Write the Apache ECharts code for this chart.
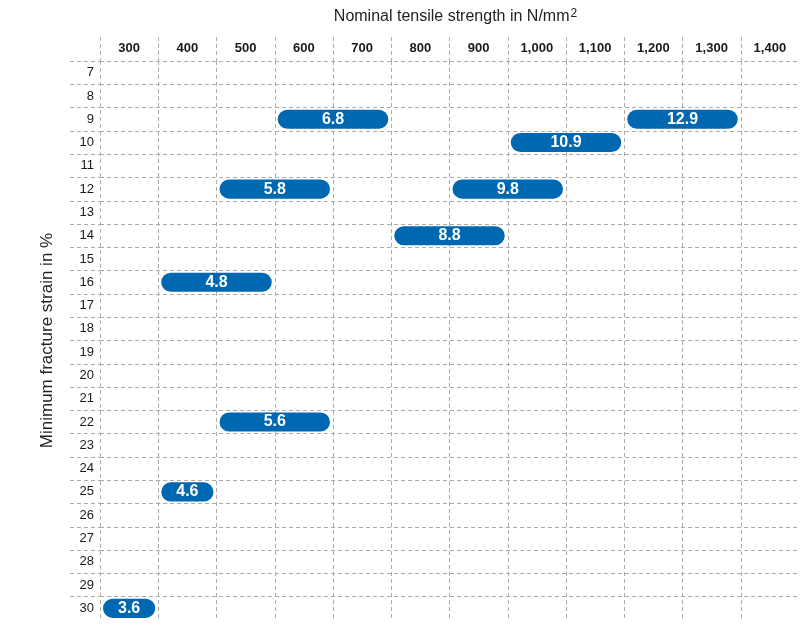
<!DOCTYPE html>
<html>
<head>
<meta charset="utf-8">
<style>
  html, body { margin: 0; padding: 0; background: #fff; }
  #chart { width: 807px; height: 630px; }
</style>
<script src="https://cdn.jsdelivr.net/npm/echarts@6/dist/echarts.min.js"></script>
</head>
<body>
<div id="chart"></div>
<script>
// ---- data ----
const strengthValues = [300, 400, 500, 600, 700, 800, 900, 1000, 1100, 1200, 1300, 1400];
const strengthLabels = ['300', '400', '500', '600', '700', '800', '900', '1,000', '1,100', '1,200', '1,300', '1,400'];
const strainValues = [7, 8, 9, 10, 11, 12, 13, 14, 15, 16, 17, 18, 19, 20, 21, 22, 23, 24, 25, 26, 27, 28, 29, 30];
const strainLabels = ['7', '8', '9', '10', '11', '12', '13', '14', '15', '16', '17', '18', '19', '20', '21', '22', '23', '24', '25', '26', '27', '28', '29', '30'];
const grades = ['3.6', '4.6', '4.8', '5.6', '5.8', '6.8', '8.8', '9.8', '10.9', '12.9'];
const strengthFrom = [300, 400, 400, 500, 500, 600, 800, 900, 1000, 1200];
const strengthTo = [300, 400, 500, 600, 600, 700, 900, 1000, 1100, 1300];
const minStrain = [30, 25, 16, 22, 12, 9, 14, 12, 10, 9];

const barData = grades.map((g, i) => [
  strengthValues.indexOf(strengthFrom[i]),
  strengthValues.indexOf(strengthTo[i]),
  strainValues.indexOf(minStrain[i])
]);

const FONT = '"Liberation Sans", Arial, Helvetica, sans-serif';
const gridLine = { color: '#ababab', width: 1, type: [4, 3] };
const BLUE = '#0067b1';

function renderItem(params, api) {
  const a = api.coord([api.value(0), api.value(2)]);
  const b = api.coord([api.value(1), api.value(2)]);
  const bw = api.size([1, 0])[0];
  const bh = api.size([0, 1])[1];
  const h = bh * 0.82;
  const x0 = a[0] - bw / 2 + 3;
  const x1 = b[0] + bw / 2 - 3;
  return {
    type: 'rect',
    shape: { x: x0, y: a[1] - h / 2, width: x1 - x0, height: h, r: h / 2 },
    style: { fill: BLUE },
    textContent: {
      style: {
        text: grades[params.dataIndex],
        fill: '#ffffff',
        fontSize: 16,
        fontWeight: 'bold',
        fontFamily: FONT
      }
    },
    textConfig: { position: 'inside' }
  };
}

const chart = echarts.init(document.getElementById('chart'));
chart.setOption({
  animation: false,
  backgroundColor: '#ffffff',
  grid: [
    { left: 100, top: 61, width: 699, height: 559, containLabel: false, outerBoundsMode: 'none' },
    { left: 100, top: 37, width: 699, height: 24, containLabel: false, outerBoundsMode: 'none' },
    { left: 70, top: 61, width: 30, height: 559, containLabel: false, outerBoundsMode: 'none' }
  ],
  xAxis: [
    {
      gridIndex: 0,
      type: 'category',
      position: 'top',
      data: strengthLabels,
      boundaryGap: true,
      name: 'Nominal tensile strength in N/mm{sup|2}',
      nameLocation: 'middle',
      nameGap: 36,
      nameTextStyle: {
        fontFamily: FONT, fontSize: 16, color: '#222', padding: [0, 0, 0, 12],
        rich: { sup: { fontFamily: FONT, fontSize: 12, color: '#222', verticalAlign: 'top', padding: [0, 0, 5, 1] } }
      },
      axisLine: { show: false },
      axisTick: { show: false },
      axisLabel: { margin: 6, fontFamily: FONT, fontSize: 13, fontWeight: 'bold', color: '#1a1a1a', interval: 0 },
      splitLine: { show: true, showMinLine: true, showMaxLine: false, lineStyle: gridLine }
    },
    {
      gridIndex: 1,
      type: 'category',
      data: strengthLabels,
      boundaryGap: true,
      axisLine: { show: false },
      axisTick: { show: false },
      axisLabel: { show: false },
      splitLine: { show: true, showMinLine: true, showMaxLine: false, interval: 0, lineStyle: gridLine }
    },
    {
      gridIndex: 2,
      type: 'value',
      min: 0,
      max: 1,
      show: false
    }
  ],
  yAxis: [
    {
      gridIndex: 0,
      type: 'category',
      inverse: true,
      data: strainLabels,
      boundaryGap: true,
      name: 'Minimum fracture strain in %',
      nameLocation: 'middle',
      nameGap: 44,
      nameRotate: 90,
      nameTextStyle: { fontFamily: FONT, fontSize: 17, color: '#222' },
      axisLine: { show: false },
      axisTick: { show: false },
      axisLabel: { margin: 6, fontFamily: FONT, fontSize: 13, color: '#1a1a1a', interval: 0 },
      splitLine: { show: true, showMinLine: true, showMaxLine: false, interval: 0, lineStyle: gridLine }
    },
    {
      gridIndex: 1,
      type: 'value',
      min: 0,
      max: 1,
      show: false
    },
    {
      gridIndex: 2,
      type: 'category',
      inverse: true,
      data: strainLabels,
      boundaryGap: true,
      axisLine: { show: false },
      axisTick: { show: false },
      axisLabel: { show: false },
      splitLine: { show: true, showMinLine: true, showMaxLine: false, interval: 0, lineStyle: gridLine }
    }
  ],
  series: [
    {
      type: 'custom',
      xAxisIndex: 0,
      yAxisIndex: 0,
      renderItem: renderItem,
      encode: { x: [0, 1], y: 2 },
      data: barData,
      z: 5
    }
  ]
});
</script>
</body>
</html>
